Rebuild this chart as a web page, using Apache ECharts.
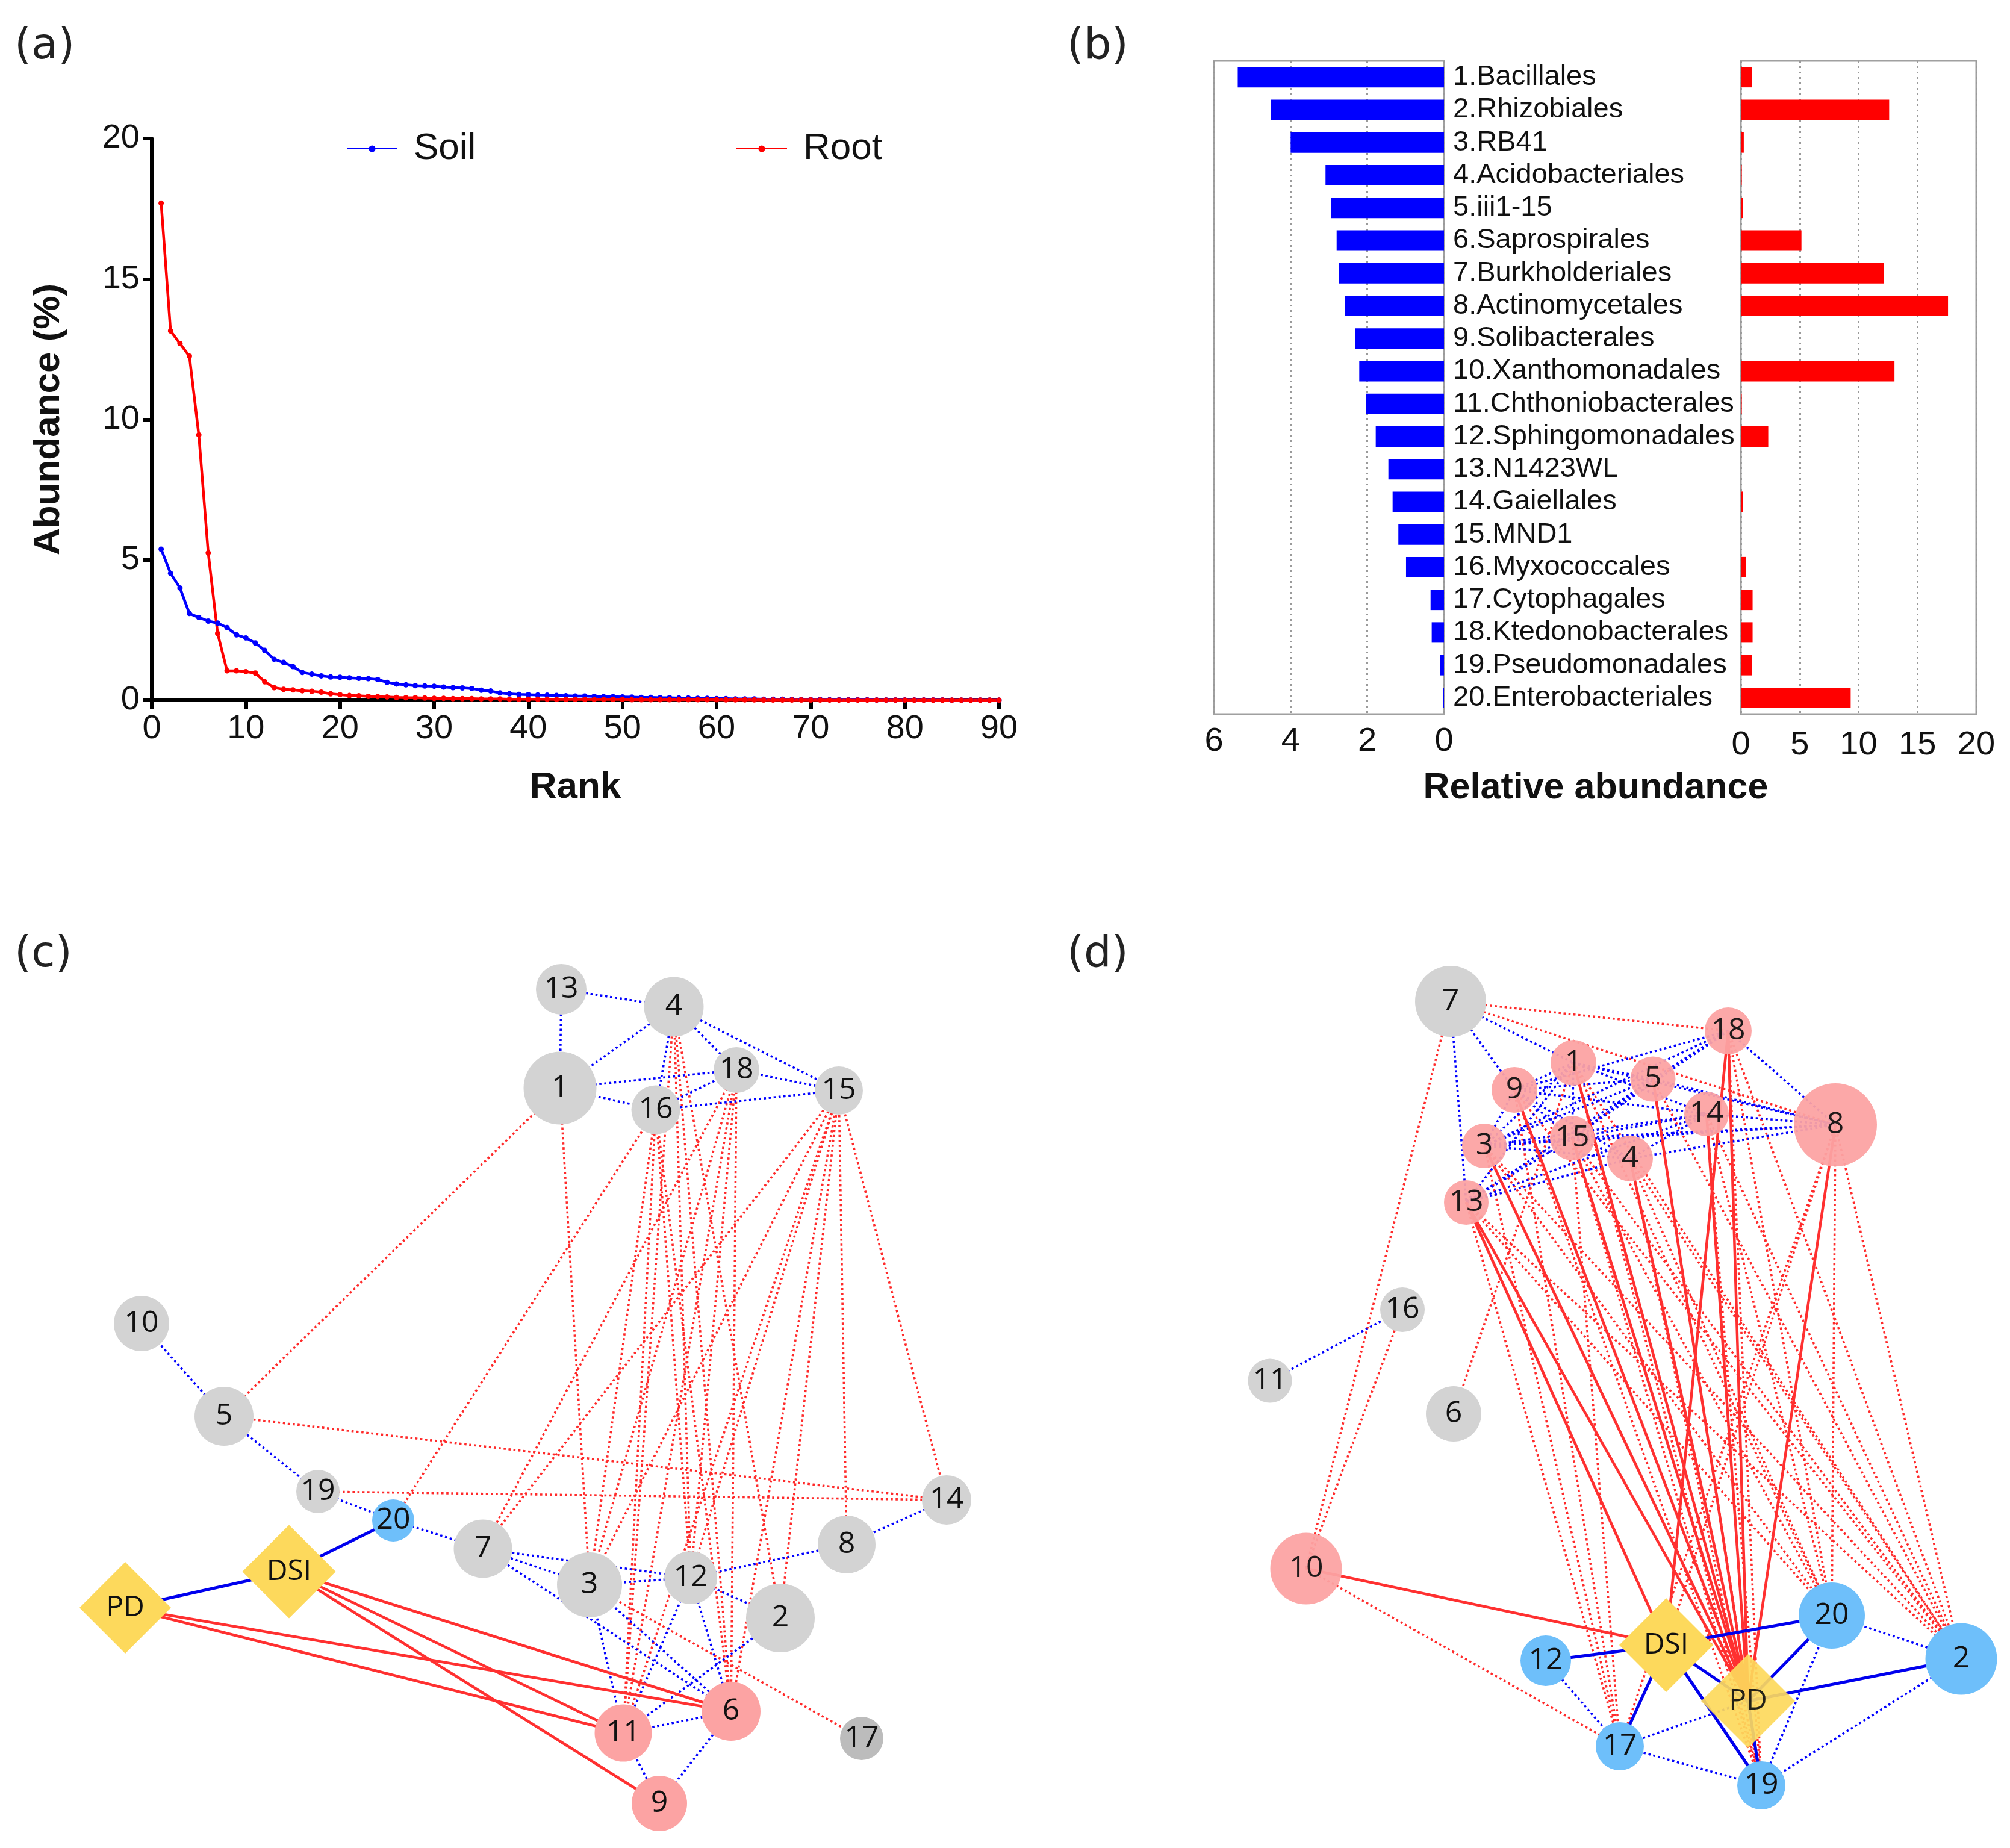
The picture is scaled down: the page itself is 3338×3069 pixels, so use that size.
<!DOCTYPE html>
<html><head><meta charset="utf-8">
<script src="https://cdn.jsdelivr.net/npm/echarts@6/dist/echarts.min.js"></script>
<style>html,body{margin:0;padding:0;background:#fff}#chart{width:3338px;height:3069px}</style>
</head><body><div id="chart"></div>
<script>
// ---------- Panel (a): rank-abundance ----------
const soilRankAbund = [5.38,4.52,4.00,3.09,2.95,2.82,2.75,2.59,2.33,2.22,
 2.04,1.78,1.46,1.35,1.20,0.99,0.93,0.87,0.83,0.82,
 0.80,0.78,0.77,0.74,0.64,0.58,0.55,0.52,0.51,0.50,
 0.47,0.45,0.44,0.42,0.36,0.33,0.26,0.23,0.21,0.20,
 0.19,0.18,0.17,0.16,0.15,0.15,0.14,0.13,0.13,0.12,
 0.11,0.10,0.10,0.09,0.09,0.08,0.08,0.07,0.07,0.06,
 0.06,0.05,0.05,0.05,0.04,0.04,0.04,0.03,0.03,0.03,
 0.03,0.02,0.02,0.02,0.02,0.02,0.01,0.01,0.01,0.01,
 0.01,0.01,0.01,0.01,0.005,0.005,0.005,0.005,0.005,0.005];
const rootRankAbund = [17.70,13.15,12.70,12.25,9.45,5.25,2.38,1.05,1.05,1.02,
 0.97,0.66,0.45,0.39,0.37,0.34,0.32,0.29,0.23,0.20,
 0.17,0.16,0.14,0.13,0.12,0.10,0.09,0.09,0.08,0.07,
 0.07,0.06,0.06,0.06,0.05,0.05,0.05,0.04,0.04,0.04,
 0.04,0.04,0.03,0.03,0.03,0.03,0.03,0.03,0.03,0.03,
 0.02,0.02,0.02,0.02,0.02,0.02,0.02,0.02,0.02,0.02,
 0.015,0.015,0.015,0.015,0.01,0.01,0.01,0.01,0.01,0.01,
 0.01,0.008,0.008,0.008,0.008,0.008,0.008,0.008,0.008,0.008,
 0.006,0.006,0.006,0.005,0.005,0.005,0.004,0.004,0.004,0.004];

// ---------- Panel (b): top 20 orders ----------
const orderNames = ['1.Bacillales','2.Rhizobiales','3.RB41','4.Acidobacteriales','5.iii1-15',
 '6.Saprospirales','7.Burkholderiales','8.Actinomycetales','9.Solibacterales','10.Xanthomonadales',
 '11.Chthoniobacterales','12.Sphingomonadales','13.N1423WL','14.Gaiellales','15.MND1',
 '16.Myxococcales','17.Cytophagales','18.Ktedonobacterales','19.Pseudomonadales','20.Enterobacteriales'];
const soilOrderAbund = [5.38,4.52,4.00,3.09,2.95,2.80,2.74,2.58,2.32,2.21,2.04,1.78,1.45,1.34,1.19,0.99,0.35,0.32,0.11,0.03];
const rootOrderAbund = [0.95,12.6,0.25,0.08,0.18,5.15,12.15,17.6,0,13.05,0.08,2.33,0,0.17,0,0.42,1.0,1.0,0.93,9.33];

// ---------- Panels (c),(d): networks ----------
// node: [name, group]; group: g=grey, k=dark grey, p=pink, b=blue, y=trait
const cNodes = [['13','g'],['4','g'],['1','g'],['18','g'],['16','g'],['15','g'],['10','g'],['5','g'],['19','g'],['20','b'],
 ['7','g'],['3','g'],['12','g'],['2','g'],['8','g'],['14','g'],['17','k'],['6','p'],['11','p'],['9','p'],['PD','y'],['DSI','y']];
const cLayout = [[932,1643],[1119,1672],[930,1807],[1223,1777],[1089,1843],[1393,1811],[235,2198],[372,2352],[528,2477],[653,2525],
 [802,2572],[979,2632],[1147,2620],[1296,2687],[1406,2565],[1572,2491],[1431,2887],[1214,2842],[1035,2878],[1095,2995],[208,2670],[480,2610]];
const cSizes = [84,99,121,76,81,80,92,98,72,70,97,108,88,114,96,82,72,98,95,92,152,155];
const cNegDotted = [['13','4'],['13','1'],['4','1'],['4','16'],['4','18'],['4','15'],['1','18'],['1','16'],['18','16'],['18','15'],['16','15'],
 ['10','5'],['5','19'],['19','20'],['20','7'],['7','12'],['7','3'],['7','6'],['3','12'],['12','8'],['8','14'],['12','2'],['3','6'],['3','11'],
 ['12','11'],['12','6'],['2','11'],['11','6'],['11','9'],['6','9']];
const cNegSolid = [['PD','DSI'],['DSI','20']];
const cPosSolid = [['PD','6'],['PD','11'],['DSI','6'],['DSI','11'],['DSI','9']];
const cPosDotted = [['1','5'],['1','3'],['20','16'],['5','14'],['19','14'],['15','14'],['15','8'],['3','17'],['7','18'],['7','15'],
 ['3','16'],['3','18'],['3','15'],['11','16'],['11','18'],['11','15'],['11','4'],['12','16'],['12','4'],['12','15'],['12','18'],
 ['6','16'],['6','4'],['6','18'],['6','15'],['2','4'],['2','15']];

const dNodes = [['7','g'],['18','p'],['1','p'],['5','p'],['9','p'],['14','p'],['8','p'],['3','p'],['15','p'],['4','p'],['13','p'],
 ['16','g'],['11','g'],['6','g'],['10','p'],['12','b'],['20','b'],['2','b'],['17','b'],['19','b'],['DSI','y'],['PD','y']];
const dLayout = [[2409,1663],[2870,1712],[2613,1765],[2745,1792],[2515,1810],[2834,1850],[3048,1868],[2465,1903],[2611,1890],[2707,1924],[2435,1997],
 [2329,2175],[2109,2293],[2414,2348],[2169,2605],[2567,2758],[3042,2683],[3257,2755],[2690,2900],[2925,2965],[2767,2732],[2903,2825]];
const dSizes = [118,78,76,75,76,74,138,74,74,76,74,74,73,92,119,84,110,119,80,80,156,156];
const dNegDotted = [['7','1'],['7','9'],['7','13'],['18','5'],['18','8'],['18','15'],['18','3'],['18','9'],
 ['1','9'],['1','5'],['1','3'],['1','15'],['1','14'],['1','8'],['1','13'],
 ['9','5'],['9','15'],['9','3'],['9','4'],['9','14'],
 ['5','3'],['5','15'],['5','13'],['5','8'],
 ['3','15'],['3','4'],['3','14'],['3','8'],
 ['15','4'],['15','14'],['15','8'],['13','15'],['13','4'],['13','14'],['4','8'],['4','14'],['14','8'],
 ['16','11'],['12','17'],['17','PD'],['17','19'],['20','2'],['20','19'],['2','19']];
const dNegSolid = [['12','DSI'],['DSI','20'],['DSI','17'],['DSI','19'],['DSI','PD'],['PD','20'],['PD','2'],['PD','19']];
const dPosSolid = [['10','DSI'],['13','DSI'],['13','PD'],['3','PD'],['9','PD'],['15','PD'],['1','PD'],['4','PD'],['5','PD'],
 ['14','PD'],['18','PD'],['18','DSI'],['8','PD']];
const dPosDotted = [['7','18'],['7','8'],['7','10'],['10','16'],['10','17'],['6','1'],
 ['13','2'],['3','2'],['15','2'],['4','2'],['9','2'],['1','2'],['5','2'],['14','2'],['8','2'],['18','2'],
 ['13','20'],['3','20'],['4','20'],['15','20'],['8','20'],['1','20'],['18','20'],['14','20'],
 ['3','17'],['9','17'],['15','17'],['13','17'],['8','17'],
 ['1','19'],['5','19'],['14','19'],['18','19'],['4','19'],['15','19'],['9','19'],['8','DSI']];

// ---------- styles ----------
const nodeColor = {g:'#d3d3d3', k:'#bcbcbc', p:'#fca3a3', b:'#6ebffa', y:'#fdd95c'};
const FONT = 'Liberation Sans';
const LBL = 'Open Sans';

function hasFont(name) {
  const c = document.createElement('canvas').getContext('2d');
  const s = 'abcdefghijklmWMW1234567';
  c.font = '40px monospace'; const a = c.measureText(s).width;
  c.font = '40px "' + name + '", monospace'; const b = c.measureText(s).width;
  return Math.abs(a - b) > 0.5;
}
const narrowOK = hasFont('Liberation Sans Narrow');
const catFont = narrowOK ? {fontFamily: 'Liberation Sans Narrow', fontSize: 56} : {fontFamily: FONT, fontSize: 47};

function buildNodes(nodes, layout, sizes, translucent) {
  return nodes.map((n, i) => {
    const isTrait = n[1] === 'y';
    let op = 1;
    if (translucent && n[0] === 'PD') op = 0.92;
    else if (translucent && n[1] === 'p') op = 0.94;
    return {
      name: n[0],
      value: layout[i],
      symbol: isTrait ? 'diamond' : 'circle',
      symbolSize: sizes[i],
      itemStyle: {color: nodeColor[n[1]], opacity: op},
      label: {show: true, position: 'inside', color: '#111', fontFamily: LBL, fontSize: isTrait ? 48 : 50}
    };
  });
}
function buildLinks(list, color, width, type) {
  return list.map(p => ({source: p[0], target: p[1], lineStyle: {color: color, width: width, type: type, opacity: 1, curveness: 0}}));
}
const DOT = [3.6, 4.6];
function netLinks(negDot, negSolid, posSolid, posDot) {
  return [].concat(
    buildLinks(posDot, '#ff2a2a', 3.6, DOT),
    buildLinks(negDot, '#0000ff', 3.6, DOT),
    buildLinks(posSolid, '#ff3030', 4.5, 'solid'),
    buildLinks(negSolid, '#0000ee', 5, 'solid')
  );
}

const chart = echarts.init(document.getElementById('chart'), null, {renderer: 'canvas'});
const panelFont = '72px "DejaVu Sans"';
const option = {
  animation: false,
  backgroundColor: '#fff',
  textStyle: {fontFamily: FONT},
  graphic: [
    {type: 'text', x: 24, y: 78, style: {text: '(a)', font: panelFont, fill: '#222', textVerticalAlign: 'middle'}},
    {type: 'text', x: 1772, y: 78, style: {text: '(b)', font: panelFont, fill: '#222', textVerticalAlign: 'middle'}},
    {type: 'text', x: 24, y: 1586, style: {text: '(c)', font: panelFont, fill: '#222', textVerticalAlign: 'middle'}},
    {type: 'text', x: 1772, y: 1586, style: {text: '(d)', font: panelFont, fill: '#222', textVerticalAlign: 'middle'}},
    {type: 'text', x: 2650, y: 1309, style: {text: 'Relative abundance', font: 'bold 61px "Liberation Sans"', fill: '#111', textAlign: 'center', textVerticalAlign: 'middle'}}
  ],
  legend: [
    {data: ['Soil'], left: 575, top: 216, padding: 0, itemWidth: 84, itemHeight: 14,
     textStyle: {fontSize: 62, color: '#111', fontFamily: FONT, padding: [0, 0, 0, 22]}},
    {data: ['Root'], left: 1222, top: 216, padding: 0, itemWidth: 84, itemHeight: 14,
     textStyle: {fontSize: 62, color: '#111', fontFamily: FONT, padding: [0, 0, 0, 22]}}
  ],
  grid: [
    {left: 252, top: 230, width: 1407, height: 933},
    {left: 2016, top: 101, width: 382, height: 1085, show: true, borderColor: '#a0a0a0', borderWidth: 3},
    {left: 2891, top: 101, width: 391, height: 1085, show: true, borderColor: '#a0a0a0', borderWidth: 3},
    {left: 0, top: 0, width: 3338, height: 3069}
  ],
  xAxis: [
    {gridIndex: 0, type: 'value', min: 0, max: 90, interval: 10,
     name: 'Rank', nameLocation: 'middle', nameGap: 114,
     nameTextStyle: {fontSize: 62, fontWeight: 'bold', color: '#111', fontFamily: FONT},
     axisLine: {show: true, onZero: false, lineStyle: {color: '#000', width: 6}},
     axisTick: {show: true, length: 14, lineStyle: {width: 6, color: '#000'}},
     axisLabel: {fontSize: 56, color: '#111', margin: 20},
     splitLine: {show: false}},
    {gridIndex: 1, type: 'value', min: 0, max: 6, interval: 2, inverse: true,
     axisLine: {show: false}, axisTick: {show: false},
     axisLabel: {fontSize: 56, color: '#111', margin: 18},
     splitLine: {show: true, lineStyle: {color: '#9a9a9a', width: 3, type: [3, 6]}}},
    {gridIndex: 2, type: 'value', min: 0, max: 20, interval: 5,
     axisLine: {show: false}, axisTick: {show: false},
     axisLabel: {fontSize: 56, color: '#111', margin: 24},
     splitLine: {show: true, lineStyle: {color: '#9a9a9a', width: 3, type: [3, 6]}}},
    {gridIndex: 3, type: 'value', min: 0, max: 3338, show: false}
  ],
  yAxis: [
    {gridIndex: 0, type: 'value', min: 0, max: 20, interval: 5,
     name: 'Abundance (%)', nameLocation: 'middle', nameGap: 140,
     nameTextStyle: {fontSize: 62, fontWeight: 'bold', color: '#111', fontFamily: FONT},
     axisLine: {show: true, lineStyle: {color: '#000', width: 6}},
     axisTick: {show: true, length: 14, lineStyle: {width: 6, color: '#000'}},
     axisLabel: {fontSize: 56, color: '#111', margin: 20},
     splitLine: {show: false}},
    {gridIndex: 1, type: 'category', data: orderNames, inverse: true, position: 'right',
     axisLine: {show: false}, axisTick: {show: false},
     axisLabel: Object.assign({interval: 0, color: '#111', margin: 15}, catFont)},
    {gridIndex: 2, type: 'category', data: orderNames, inverse: true,
     axisLine: {show: false}, axisTick: {show: false}, axisLabel: {show: false}},
    {gridIndex: 3, type: 'value', min: 0, max: 3069, inverse: true, show: false}
  ],
  series: [
    {name: 'Soil', type: 'line', xAxisIndex: 0, yAxisIndex: 0,
     data: soilRankAbund.map((v, i) => [i + 1, v]),
     symbol: 'circle', symbolSize: 9, color: '#0000ff',
     lineStyle: {width: 4.5, color: '#0000ff'}, itemStyle: {color: '#0000ff'}},
    {name: 'Root', type: 'line', xAxisIndex: 0, yAxisIndex: 0,
     data: rootRankAbund.map((v, i) => [i + 1, v]),
     symbol: 'circle', symbolSize: 9, color: '#ff0000',
     lineStyle: {width: 4.5, color: '#ff0000'}, itemStyle: {color: '#ff0000'}},
    {name: 'Soil orders', type: 'bar', xAxisIndex: 1, yAxisIndex: 1, data: soilOrderAbund,
     barWidth: 34, itemStyle: {color: '#0000ff'}},
    {name: 'Root orders', type: 'bar', xAxisIndex: 2, yAxisIndex: 2, data: rootOrderAbund,
     barWidth: 34, itemStyle: {color: '#ff0000'}},
    {name: 'Network c', type: 'graph', layout: 'none', coordinateSystem: 'cartesian2d', xAxisIndex: 3, yAxisIndex: 3,
     data: buildNodes(cNodes, cLayout, cSizes, false),
     links: netLinks(cNegDotted, cNegSolid, cPosSolid, cPosDotted),
     emphasis: {disabled: true}, silent: true},
    {name: 'Network d', type: 'graph', layout: 'none', coordinateSystem: 'cartesian2d', xAxisIndex: 3, yAxisIndex: 3,
     data: buildNodes(dNodes, dLayout, dSizes, true),
     links: netLinks(dNegDotted, dNegSolid, dPosSolid, dPosDotted),
     emphasis: {disabled: true}, silent: true}
  ]
};
chart.setOption(option);
</script></body></html>
